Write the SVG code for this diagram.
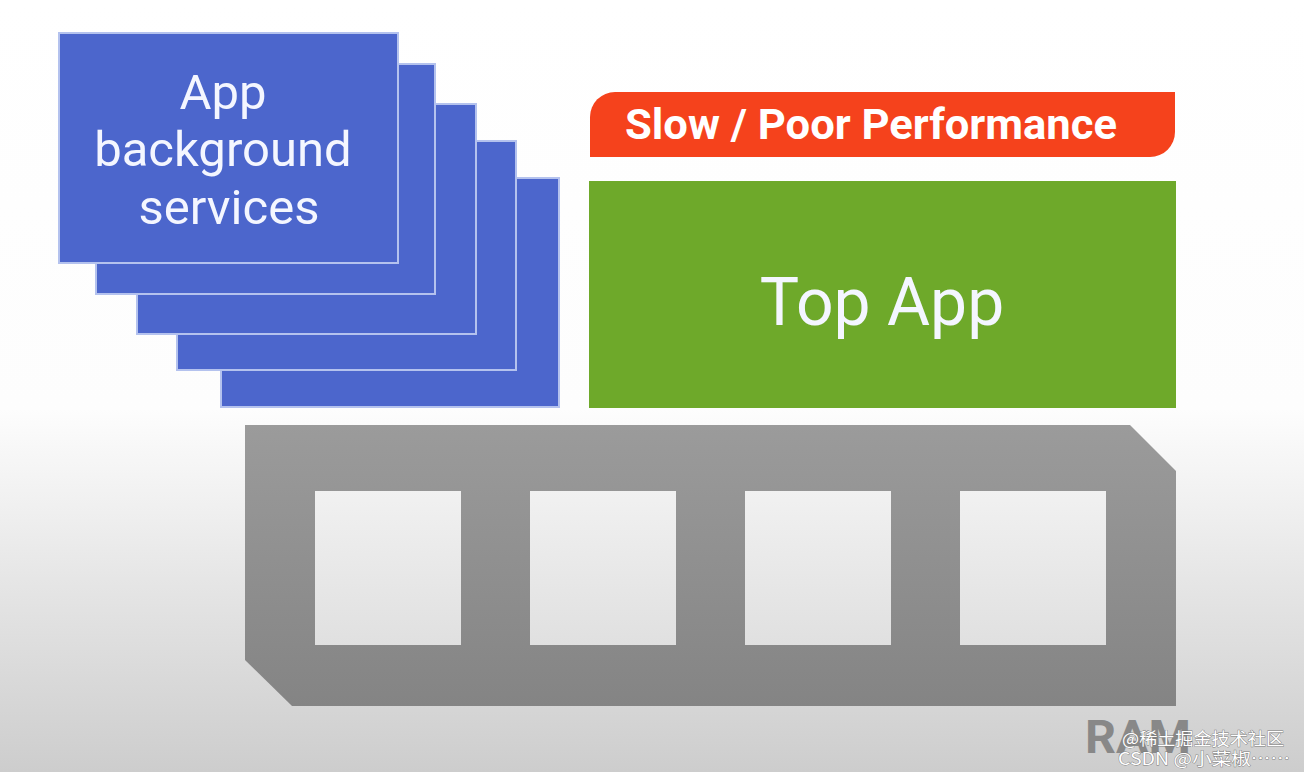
<svg xmlns="http://www.w3.org/2000/svg" width="1304" height="772" viewBox="0 0 1304 772">
  <defs>
    <linearGradient id="bg" x1="0" y1="0" x2="0" y2="1">
      <stop offset="0" stop-color="#ffffff"/>
      <stop offset="0.53" stop-color="#fdfdfd"/>
      <stop offset="0.75" stop-color="#e6e6e6"/>
      <stop offset="1" stop-color="#cdcdcd"/>
    </linearGradient>
    <linearGradient id="ramg" x1="0" y1="0" x2="0" y2="1">
      <stop offset="0" stop-color="#9b9b9b"/>
      <stop offset="1" stop-color="#848484"/>
    </linearGradient>
    <linearGradient id="slotg" x1="0" y1="0" x2="0" y2="1">
      <stop offset="0" stop-color="#f1f1f1"/>
      <stop offset="1" stop-color="#e0e0e0"/>
    </linearGradient>
    <style>
      .card { fill: #4c66cc; stroke: #b4c2ee; stroke-width: 2; }
      .wtxt { fill: #f4f6ff; font-family: Roboto, "Liberation Sans", sans-serif; }
      .slot { fill: url(#slotg); }
      .wm { font-family: "Noto Sans CJK SC", "Liberation Sans", sans-serif; font-size: 17px; fill: #ffffff; stroke: #7a7a7a; stroke-width: 0.8; paint-order: stroke; }
    </style>
  </defs>
  <rect x="0" y="0" width="1304" height="772" fill="url(#bg)"/>

  <g id="bg-services">
    <rect class="card" x="221" y="178" width="338" height="229"/>
    <rect class="card" x="177" y="141" width="339" height="229"/>
    <rect class="card" x="137" y="104" width="339" height="230"/>
    <rect class="card" x="96" y="64" width="339" height="230"/>
    <rect class="card" x="59" y="33" width="339" height="230"/>
    <text class="wtxt" font-size="49" text-anchor="middle">
      <tspan x="229" y="109">App</tspan>
      <tspan x="229" y="166">background</tspan>
      <tspan x="229" y="224">services</tspan>
    </text>
  </g>

  <g id="slow-banner">
    <path d="M615,92 H1175 V132 A25,25 0 0 1 1150,157 H590 V117 A25,25 0 0 1 615,92 Z" fill="#f5421c"/>
    <text x="625" y="139" font-family="Roboto, 'Liberation Sans', sans-serif" font-weight="bold" font-size="42" fill="#ffffff" textLength="492" lengthAdjust="spacingAndGlyphs">Slow / Poor Performance</text>
  </g>

  <g id="top-app">
    <rect x="589" y="181" width="587" height="227" fill="#6ea92a"/>
    <text class="wtxt" x="882" y="325" font-size="66" text-anchor="middle">Top App</text>
  </g>

  <g id="ram">
    <path d="M245,425 H1130 L1176,471 V706 H292 L245,660 Z" fill="url(#ramg)"/>
    <rect class="slot" x="315" y="491" width="146" height="154"/>
    <rect class="slot" x="530" y="491" width="146" height="154"/>
    <rect class="slot" x="745" y="491" width="146" height="154"/>
    <rect class="slot" x="960" y="491" width="146" height="154"/>
    <text x="1085" y="753" font-family="Roboto, 'Liberation Sans', sans-serif" font-weight="bold" font-size="46" fill="#888888" textLength="106" lengthAdjust="spacingAndGlyphs">RAM</text>
  </g>

  <g id="connectors"></g>

  <g id="watermark">
    <text class="wm" x="1122" y="745" textLength="162" lengthAdjust="spacingAndGlyphs">@稀土掘金技术社区</text>
    <text class="wm" x="1118" y="765" textLength="172" lengthAdjust="spacingAndGlyphs">CSDN @小菜椒……</text>
  </g>
</svg>
